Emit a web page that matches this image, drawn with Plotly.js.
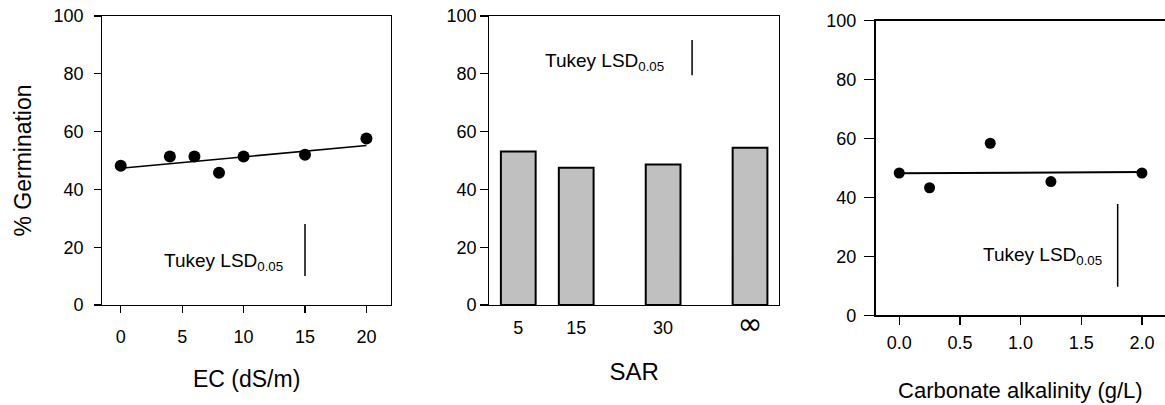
<!DOCTYPE html>
<html>
<head>
<meta charset="utf-8">
<script src="https://cdn.plot.ly/plotly-3.0.1.min.js"></script>
<style>
  html, body { margin: 0; padding: 0; background: #ffffff; }
  #chart { width: 1165px; height: 405px; }
</style>
</head>
<body>
<div id="chart"></div>
<script>
// Germination response to salinity (EC), sodicity (SAR) and carbonate alkalinity

// EC panel
const ecLevels = [0, 4, 6, 8, 10, 15, 20];
const ecGermination = [48.2, 51.4, 51.4, 45.8, 51.4, 52.0, 57.6];
const ecFitX = [0, 20];
const ecFitY = [47.3, 55.2];
const ecLsdX = [15, 15];
const ecLsdY = [10, 28];

// SAR panel
const sarPositions = [5, 15, 30, 45];
const sarLabels = ['5', '15', '30', '<span style="font-family:DejaVu Sans;font-size:30px">∞</span>'];
const sarGermination = [53.1, 47.5, 48.6, 54.4];
const sarLsdX = [35, 35];
const sarLsdY = [79.5, 91.7];

// Carbonate alkalinity panel
const alkLevels = [0, 0.25, 0.75, 1.25, 2.0];
const alkGermination = [48.3, 43.3, 58.4, 45.4, 48.3];
const alkFitX = [0, 2];
const alkFitY = [48.2, 48.6];
const alkLsdX = [1.8, 1.8];
const alkLsdY = [9.7, 37.8];

const yTicks = [0, 20, 40, 60, 80, 100];
const lsdLabel = 'Tukey LSD<sub>0.05</sub>';

const FONT = 'Liberation Sans, Arial, Helvetica, sans-serif';
const ink = '#000000';

const traces = [
  { x: ecFitX, y: ecFitY, xaxis: 'x', yaxis: 'y', mode: 'lines',
    line: { color: ink, width: 1.6 }, hoverinfo: 'skip' },
  { x: ecLevels, y: ecGermination, xaxis: 'x', yaxis: 'y', mode: 'markers',
    marker: { color: ink, size: 12 } },
  { x: ecLsdX, y: ecLsdY, xaxis: 'x', yaxis: 'y', mode: 'lines',
    line: { color: ink, width: 1.5 }, hoverinfo: 'skip' },

  { x: sarPositions, y: sarGermination, xaxis: 'x2', yaxis: 'y2', type: 'bar',
    width: 6, marker: { color: '#c0c0c0', line: { color: ink, width: 2 } } },
  { x: sarLsdX, y: sarLsdY, xaxis: 'x2', yaxis: 'y2', mode: 'lines',
    line: { color: ink, width: 1.5 }, hoverinfo: 'skip' },

  { x: alkFitX, y: alkFitY, xaxis: 'x3', yaxis: 'y3', mode: 'lines',
    line: { color: ink, width: 2 }, hoverinfo: 'skip' },
  { x: alkLevels, y: alkGermination, xaxis: 'x3', yaxis: 'y3', mode: 'markers',
    marker: { color: ink, size: 11 } },
  { x: alkLsdX, y: alkLsdY, xaxis: 'x3', yaxis: 'y3', mode: 'lines',
    line: { color: ink, width: 1.5 }, hoverinfo: 'skip' }
];

function yAxis(anchor, domain, ticklen, standoff, mirror, title) {
  const ax = {
    anchor: anchor, domain: domain, range: [0, 100], tickvals: yTicks,
    ticks: 'outside', ticklen: ticklen, tickwidth: 1.2, tickcolor: ink,
    showline: true, linecolor: ink, linewidth: 1.2, mirror: mirror,
    showgrid: false, zeroline: false, ticklabelstandoff: standoff,
    tickfont: { family: FONT, size: 18, color: ink }
  };
  if (title) ax.title = title;
  return ax;
}

const layout = {
  width: 1165, height: 405,
  margin: { l: 0, r: 0, t: 0, b: 0 },
  paper_bgcolor: '#ffffff', plot_bgcolor: 'rgba(0,0,0,0)',
  showlegend: false,
  font: { family: FONT, color: ink },

  xaxis: {
    domain: [0.08781, 0.33562], anchor: 'y', range: [-1.5, 22],
    tickvals: [0, 5, 10, 15, 20],
    ticks: 'outside', ticklen: 7, tickwidth: 1.2, tickcolor: ink,
    showline: true, linecolor: ink, linewidth: 1.2, mirror: true,
    showgrid: false, zeroline: false, ticklabelstandoff: 8,
    tickfont: { family: FONT, size: 18, color: ink },
    title: { text: 'EC (dS/m)', font: { family: FONT, size: 23, color: ink }, standoff: 25 }
  },
  yaxis: yAxis('x', [0.24691, 0.96049], 7, 7, true,
    { text: '% Germination', font: { family: FONT, size: 23, color: ink }, standoff: 15 }),

  xaxis2: {
    domain: [0.42000, 0.66867], anchor: 'y2', range: [0, 50],
    tickvals: sarPositions, ticktext: sarLabels,
    ticks: '', showline: true, linecolor: ink, linewidth: 1.2, mirror: true,
    showgrid: false, zeroline: false, ticklabelstandoff: 6,
    tickfont: { family: FONT, size: 18, color: ink },
    title: { text: 'SAR', font: { family: FONT, size: 24, color: ink }, standoff: 23 }
  },
  yaxis2: yAxis('x2', [0.24691, 0.96049], 8, 5.5, true),

  xaxis3: {
    domain: [0.75167, 1], anchor: 'y3', range: [-0.194, 2.19],
    tickvals: [0, 0.5, 1, 1.5, 2], tickformat: '.1f',
    ticks: 'outside', ticklen: 8, tickwidth: 1.2, tickcolor: ink,
    showline: true, linecolor: ink, linewidth: 1.2, mirror: true,
    showgrid: false, zeroline: false, ticklabelstandoff: 3,
    tickfont: { family: FONT, size: 18, color: ink },
    title: { text: 'Carbonate alkalinity (g/L)', font: { family: FONT, size: 22, color: ink }, standoff: 30 }
  },
  yaxis3: yAxis('x3', [0.22148, 0.94889], 10.7, 4, false),

  annotations: [
    { xref: 'x', yref: 'y', x: 13.4, y: 15, text: lsdLabel, showarrow: false,
      xanchor: 'right', yanchor: 'middle', font: { family: FONT, size: 19, color: ink } },
    { xref: 'x2', yref: 'y2', x: 30.5, y: 84, text: lsdLabel, showarrow: false,
      xanchor: 'right', yanchor: 'middle', font: { family: FONT, size: 19, color: ink } },
    { xref: 'x3', yref: 'y3', x: 1.69, y: 20, text: lsdLabel, showarrow: false,
      xanchor: 'right', yanchor: 'middle', font: { family: FONT, size: 19, color: ink } }
  ]
};

Plotly.newPlot('chart', traces, layout, { staticPlot: true, displayModeBar: false });
</script>
</body>
</html>
